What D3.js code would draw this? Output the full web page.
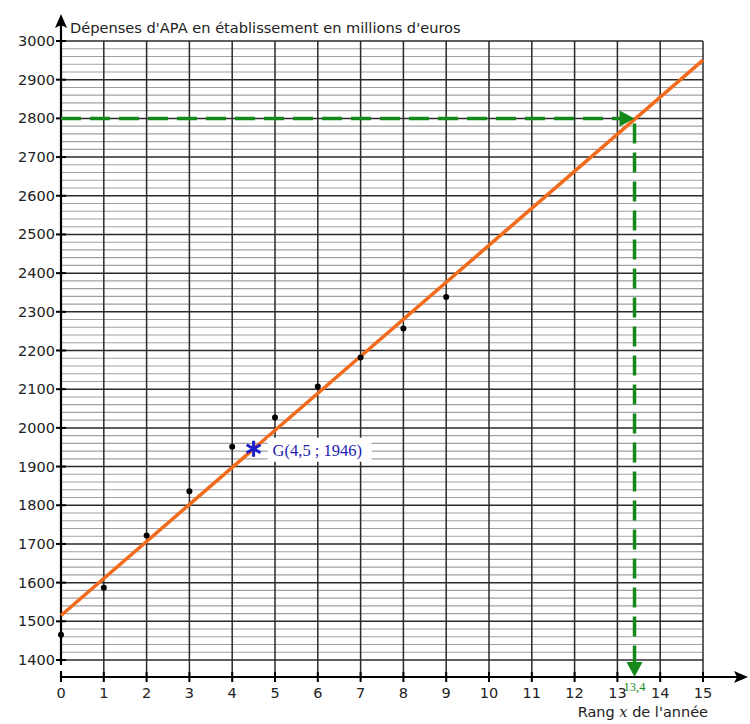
<!DOCTYPE html>
<html>
<head>
<meta charset="utf-8">
<script src="https://cdn.jsdelivr.net/npm/d3@7"></script>
<style>
  body { margin: 0; background: #fff; }
</style>
</head>
<body>
<svg id="chart" width="750" height="724"></svg>
<script>
// data
const years = [0, 1, 2, 3, 4, 5, 6, 7, 8, 9];
const spending = [1465, 1587, 1722, 1836, 1951, 2027, 2107, 2182, 2257, 2338];
const xTicks = d3.range(0, 16);
const yTicks = d3.range(1400, 3001, 100);
const yMinor = d3.range(1400, 3001, 20);
// regression line y = 95.7x + 1515
const slope = 95.7, intercept = 1515;
const G = [4.5, 1946];
const target = [13.4, 2800];

const sans = '"DejaVu Sans", sans-serif';
const serif = '"Liberation Serif", serif';

const svg = d3.select('#chart');

const x = d3.scaleLinear().domain([0, 15]).range([61, 703]);
const y = d3.scaleLinear().domain([1400, 3000]).range([660, 41]);
const axisY = 677;

// grid
const grid = svg.append('g').attr('class', 'grid');
grid.selectAll('line.minor')
    .data(yMinor.filter(v => v % 100 != 0)).enter()
  .append('line')
    .attr('class', 'minor')
    .attr('x1', x(0)).attr('x2', x(15))
    .attr('y1', d => y(d)).attr('y2', d => y(d))
    .attr('stroke', '#a0a0a0').attr('stroke-width', 1.1);
grid.selectAll('line.major')
    .data(yTicks).enter()
  .append('line')
    .attr('class', 'major')
    .attr('x1', x(0)).attr('x2', x(15))
    .attr('y1', d => y(d)).attr('y2', d => y(d))
    .attr('stroke', '#2a2a2a').attr('stroke-width', 1.5);
grid.selectAll('line.vert')
    .data(xTicks.filter(d => d > 0)).enter()
  .append('line')
    .attr('class', 'vert')
    .attr('x1', d => x(d)).attr('x2', d => x(d))
    .attr('y1', y(3000)).attr('y2', axisY)
    .attr('stroke', '#2a2a2a').attr('stroke-width', 1.5);

// axes
const ax = svg.append('g').attr('class', 'axes');
ax.append('line')
    .attr('x1', x(0)).attr('x2', 740)
    .attr('y1', axisY).attr('y2', axisY)
    .attr('stroke', '#000').attr('stroke-width', 2.2);
ax.append('path')
    .attr('d', `M748,${axisY} L734,${axisY - 6} L737,${axisY} L734,${axisY + 6} Z`)
    .attr('fill', '#000');
// y axis with a small break under 1400
ax.append('line')
    .attr('x1', x(0)).attr('x2', x(0))
    .attr('y1', 665).attr('y2', 24)
    .attr('stroke', '#000').attr('stroke-width', 2.2);
ax.append('line')
    .attr('x1', x(0)).attr('x2', x(0))
    .attr('y1', axisY + 1).attr('y2', 671)
    .attr('stroke', '#000').attr('stroke-width', 2.2);
ax.append('path')
    .attr('d', `M${x(0)},14 L${x(0) - 6},28 L${x(0)},25 L${x(0) + 6},28 Z`)
    .attr('fill', '#000');

ax.selectAll('line.ytick')
    .data(yTicks).enter()
  .append('line')
    .attr('x1', x(0) - 5).attr('x2', x(0) + 5)
    .attr('y1', d => y(d)).attr('y2', d => y(d))
    .attr('stroke', '#000').attr('stroke-width', 2);
ax.selectAll('text.ylab')
    .data(yTicks).enter()
  .append('text')
    .attr('x', x(0) - 6).attr('y', d => y(d) + 5)
    .attr('text-anchor', 'end')
    .style('font-family', sans)
    .attr('font-size', 14.5)
    .attr('fill', '#222')
    .text(d => d);

ax.selectAll('line.xtick')
    .data(xTicks).enter()
  .append('line')
    .attr('x1', d => x(d)).attr('x2', d => x(d))
    .attr('y1', axisY - 5).attr('y2', axisY + 5)
    .attr('stroke', '#000').attr('stroke-width', 2);
ax.selectAll('text.xlab')
    .data(xTicks).enter()
  .append('text')
    .attr('x', d => x(d)).attr('y', axisY + 21)
    .attr('text-anchor', 'middle')
    .style('font-family', sans)
    .attr('font-size', 14.5)
    .attr('fill', '#222')
    .text(d => d);

// titles
svg.append('text')
    .attr('x', 70).attr('y', 33)
    .style('font-family', sans)
    .attr('font-size', 14.6)
    .attr('fill', '#222')
    .text("Dépenses d'APA en établissement en millions d'euros");
const xt = svg.append('text')
    .attr('x', 708).attr('y', 717)
    .attr('text-anchor', 'end')
    .style('font-family', sans)
    .attr('font-size', 14.5)
    .attr('fill', '#222');
xt.append('tspan').text('Rang ');
xt.append('tspan')
    .style('font-family', '"DejaVu Serif", serif')
    .style('font-style', 'italic')
    .text('x');
xt.append('tspan').text(" de l'année");

// regression line
svg.append('line')
    .attr('x1', x(0)).attr('y1', y(intercept))
    .attr('x2', x(15)).attr('y2', y(intercept + slope * 15))
    .attr('stroke', '#f26b1d').attr('stroke-width', 3.5);

// green dashed reading lines
const green = '#14891a';
const tx = x(target[0]), ty = y(target[1]);
svg.append('line')
    .attr('x1', x(0)).attr('y1', ty)
    .attr('x2', tx - 12).attr('y2', ty)
    .attr('stroke', green).attr('stroke-width', 3.5)
    .attr('stroke-dasharray', '20,9');
svg.append('path')
    .attr('d', `M${tx},${ty} L${tx - 15},${ty - 8} L${tx - 15},${ty + 8} Z`)
    .attr('fill', green);
svg.append('line')
    .attr('x1', tx).attr('y1', ty + 5)
    .attr('x2', tx).attr('y2', axisY - 12)
    .attr('stroke', green).attr('stroke-width', 3.5)
    .attr('stroke-dasharray', '20,9');
svg.append('path')
    .attr('d', `M${tx},${axisY} L${tx - 8},${axisY - 15} L${tx + 8},${axisY - 15} Z`)
    .attr('fill', green);
svg.append('text')
    .attr('x', tx).attr('y', axisY + 14)
    .attr('text-anchor', 'middle')
    .style('font-family', serif)
    .attr('font-size', 12.5)
    .attr('fill', green)
    .text('13,4');

// data points
svg.append('g').selectAll('circle')
    .data(years).enter()
  .append('circle')
    .attr('cx', d => x(d))
    .attr('cy', (d, i) => y(spending[i]))
    .attr('r', 3)
    .attr('fill', '#000');

// mean point G
svg.append('rect')
    .attr('x', x(G[0]) + 14).attr('y', y(G[1]) - 11)
    .attr('width', 104).attr('height', 24)
    .attr('fill', '#fff');
svg.append('path')
    .attr('transform', `translate(${x(G[0])},${y(G[1])})`)
    .attr('d', d3.symbol(d3.symbolAsterisk, 180)())
    .attr('fill', 'none')
    .attr('stroke', '#1c1cc8').attr('stroke-width', 3);
svg.append('text')
    .attr('x', x(G[0]) + 19).attr('y', y(G[1]) + 7)
    .style('font-family', serif)
    .attr('font-size', 16.5)
    .attr('fill', '#2222b0')
    .text('G(4,5 ; 1946)');
</script>
</body>
</html>
